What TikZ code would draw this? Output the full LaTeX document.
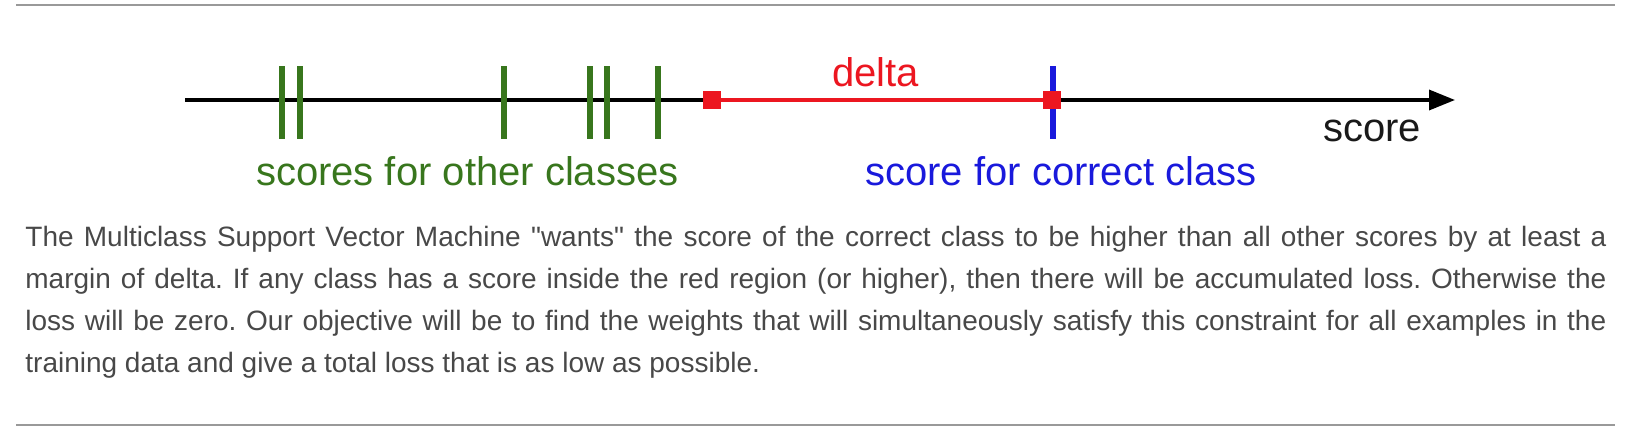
\documentclass[tikz,border=0pt]{standalone}
\usepackage{fontspec}
\setmainfont{Liberation Sans}
\newfontfamily\plainsans{Liberation Sans}
\usetikzlibrary{arrows.meta}
\definecolor{rulegray}{RGB}{153,153,153}
\definecolor{tickgreen}{RGB}{56,118,29}
\definecolor{dred}{RGB}{236,22,32}
\definecolor{dblue}{RGB}{25,25,220}
\definecolor{bodygray}{RGB}{72,72,72}
\begin{document}
\frenchspacing
\begin{tikzpicture}[x=0.5pt,y=-0.5pt,
  rulestyle/.style={draw=rulegray, line width=1pt},
  greentick/.style={draw=tickgreen, line width=3pt},
  bluetick/.style={draw=dblue, line width=3pt},
  axisline/.style={draw=black, line width=1.75pt, -{Triangle[length=13pt,width=10pt]}},
  deltaline/.style={draw=dred, line width=1.6pt},
  lbl/.style={inner sep=0pt, anchor=base west, font=\fontsize{20pt}{24pt}\selectfont},
  bodyline/.style={inner sep=0pt, anchor=base west, text=bodygray, font=\plainsans\fontsize{14pt}{21pt}\selectfont},
  redsq/.style={fill=dred, minimum size=9pt, inner sep=0pt},
]
\useasboundingbox (0,0) rectangle (1640,428);
% rules
\coordinate (tl) at (16,5);
\coordinate (tr) at (1615,5);
\coordinate (bl) at (16,425);
\coordinate (br) at (1615,425);
\draw[rulestyle] (tl) -- (tr);
\draw[rulestyle] (bl) -- (br);
% axis
\coordinate (axs) at (185,100);
\coordinate (axe) at (1455,100);
\draw[axisline] (axs) -- (axe);
% green ticks
\foreach \x [count=\i] in {281.5,299.5,504,590,606.5,657.5}{
  \coordinate (gt\i) at (\x,66);
  \coordinate (gb\i) at (\x,139);
  \draw[greentick] (gt\i) -- (gb\i);
}
% blue tick
\coordinate (btt) at (1053,66);
\coordinate (btb) at (1053,139);
\draw[bluetick] (btt) -- (btb);
% red squares and delta segment
\node[redsq] (lo) at (711.7,100) {};
\node[redsq] (hi) at (1052,100) {};
\draw[deltaline] (lo) -- (hi);
% labels
\node[lbl, text=dred] (delta) at (832,86) {delta};
\node[lbl, text=black!90] (score) at (1323,141) {score};
\node[lbl, text=tickgreen] (other) at (255.7,185) {scores for other classes};
\node[lbl, text=dblue] (correct) at (865,185) {score for correct class};
% caption
\node[bodyline] (c1) at (25,246) {\makebox[790.5pt][s]{The Multiclass Support Vector Machine "wants" the score of the correct class to be higher than all other scores by at least a}};
\node[bodyline] (c2) at (25,288) {\makebox[790.5pt][s]{margin of delta. If any class has a score inside the red region (or higher), then there will be accumulated loss. Otherwise the}};
\node[bodyline] (c3) at (25,330) {\makebox[790.5pt][s]{loss will be zero. Our objective will be to find the weights that will simultaneously satisfy this constraint for all examples in the}};
\node[bodyline] (c4) at (25,372) {training data and give a total loss that is as low as possible.};
\end{tikzpicture}
\end{document}
